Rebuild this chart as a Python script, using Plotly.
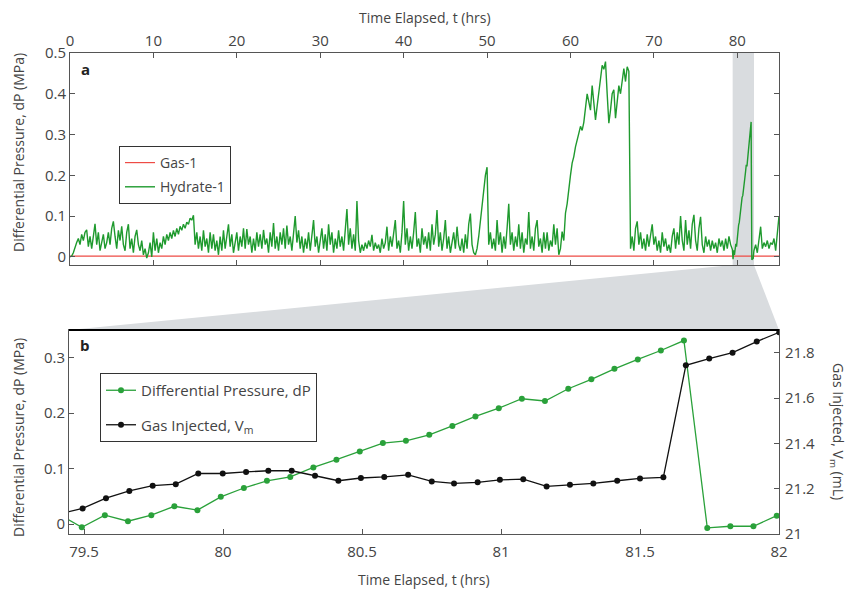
import plotly.graph_objects as go

# ---------------- DATA ----------------
# Panel a: Gas-1 (flat, near zero)
gas1_t = [0, 85]
gas1_dp = [0.002, 0.002]

# Panel a: Hydrate-1 main record, sampled every 0.2 h from t = 0 to 79.2 h (5 values per hour)
hydrate1_dp_main = [
    0.000, 0.002, 0.010, 0.025, 0.035,   # 0 h
    0.045, 0.030, 0.055, 0.040, 0.060,   # 1
    0.066, 0.025, 0.050, 0.020, 0.045,   # 2
    0.081, 0.030, 0.060, 0.015, 0.040,   # 3
    0.055, 0.020, 0.035, 0.060, 0.030,   # 4
    0.070, 0.087, 0.050, 0.020, 0.065,   # 5
    0.040, 0.075, 0.030, 0.015, 0.060,   # 6
    0.080, 0.020, 0.045, 0.010, 0.050,   # 7
    0.066, 0.030, 0.015, 0.040, 0.005,   # 8
    0.020, -0.003, 0.010, 0.035, 0.000,  # 9
    0.060, 0.015, 0.045, 0.010, 0.035,   # 10
    0.020, 0.050, 0.030, 0.055, 0.040,   # 11
    0.060, 0.045, 0.065, 0.050, 0.070,   # 12
    0.055, 0.075, 0.065, 0.080, 0.070,   # 13
    0.085, 0.080, 0.095, 0.090, 0.102,   # 14
    0.030, 0.060, 0.020, 0.050, 0.015,   # 15
    0.065, 0.025, 0.045, 0.010, 0.060,   # 16
    0.020, 0.055, 0.015, 0.040, 0.005,   # 17
    0.050, 0.015, 0.065, 0.020, 0.045,   # 18
    0.080, 0.025, 0.055, 0.010, 0.040,   # 19
    0.060, 0.015, 0.050, 0.025, 0.070,   # 20
    0.020, 0.068, 0.030, 0.050, 0.010,   # 21
    0.045, 0.015, 0.060, 0.025, 0.055,   # 22
    0.020, 0.066, 0.030, 0.045, 0.010,   # 23
    0.060, 0.025, 0.083, 0.020, 0.050,   # 24
    0.015, 0.060, 0.030, 0.070, 0.020,   # 25
    0.077, 0.030, 0.050, 0.015, 0.060,   # 26
    0.100, 0.035, 0.065, 0.020, 0.050,   # 27
    0.010, 0.045, 0.020, 0.060, 0.015,   # 28
    0.055, 0.090, 0.025, 0.050, 0.010,   # 29
    0.040, 0.070, 0.020, 0.055, 0.015,   # 30
    0.080, 0.030, 0.060, 0.010, 0.045,   # 31
    0.020, 0.065, 0.025, 0.050, 0.015,   # 32
    0.060, 0.117, 0.030, 0.070, 0.020,   # 33
    0.055, 0.015, 0.137, 0.040, 0.010,   # 34
    0.030, 0.015, 0.035, 0.020, 0.040,   # 35
    0.025, 0.054, 0.015, 0.035, 0.020,   # 36
    0.030, 0.010, 0.045, 0.020, 0.035,   # 37
    0.074, 0.015, 0.050, 0.025, 0.060,   # 38
    0.090, 0.020, 0.040, 0.010, 0.060,   # 39
    0.137, 0.030, 0.070, 0.015, 0.050,   # 40
    0.020, 0.060, 0.110, 0.025, 0.045,   # 41
    0.010, 0.070, 0.030, 0.050, 0.020,   # 42
    0.060, 0.015, 0.080, 0.030, 0.055,   # 43
    0.115, 0.025, 0.060, 0.015, 0.045,   # 44
    0.090, 0.020, 0.050, 0.010, 0.040,   # 45
    0.060, 0.020, 0.074, 0.030, 0.015,   # 46
    0.045, 0.010, 0.055, 0.020, 0.080,   # 47
    0.106, 0.030, 0.010, 0.005, 0.020,   # 48
    0.050, 0.090, 0.130, 0.170, 0.200,   # 49
    0.220, 0.030, 0.060, 0.020, 0.045,   # 50
    0.015, 0.090, 0.030, 0.060, 0.010,   # 51
    0.050, 0.020, 0.070, 0.130, 0.030,   # 52
    0.060, 0.015, 0.050, 0.025, 0.080,   # 53
    0.020, 0.060, 0.010, 0.045, 0.030,   # 54
    0.110, 0.020, 0.050, 0.015, 0.070,   # 55
    0.090, 0.025, 0.045, 0.010, 0.060,   # 56
    0.020, 0.060, 0.015, 0.040, 0.025,   # 57
    0.080, 0.030, 0.070, 0.005, 0.020,   # 58
    0.062, 0.040, 0.107, 0.130, 0.170,   # 59
    0.200, 0.230, 0.246, 0.270, 0.290,   # 60
    0.303, 0.320, 0.310, 0.330, 0.370,   # 61
    0.400, 0.380, 0.360, 0.420, 0.380,   # 62
    0.336, 0.370, 0.400, 0.440, 0.470,   # 63
    0.460, 0.479, 0.400, 0.328, 0.360,   # 64
    0.400, 0.410, 0.340, 0.380, 0.420,   # 65
    0.400, 0.440, 0.462, 0.430, 0.466,   # 66
    0.455, 0.020, 0.050, 0.015, 0.070,   # 67
    0.087, 0.030, 0.060, 0.020, 0.045,   # 68
    0.015, 0.055, 0.025, 0.060, 0.080,   # 69
    0.030, 0.050, 0.015, 0.040, 0.010,   # 70
    0.060, 0.025, 0.045, 0.015, 0.030,   # 71
    0.010, 0.050, 0.070, 0.020, 0.060,   # 72
    0.030, 0.100, 0.040, 0.015, 0.090,   # 73
    0.030, 0.065, 0.020, 0.080, 0.103,   # 74
    0.040, 0.015, 0.070, 0.098, 0.030,   # 75
    0.010, 0.050, 0.025, 0.042, 0.015,   # 76
    0.040, 0.020, 0.035, 0.010, 0.045,   # 77
    0.025, 0.040, 0.015, 0.045, 0.020,   # 78
    0.050, 0.030,                        # 79.0, 79.2
]
hydrate1_t_main = [round(0.2 * i, 1) for i in range(len(hydrate1_dp_main))]

# Panel b: differential pressure dP (MPa) -- also the zoomed part of Hydrate-1
dp_t = [79.408, 79.492, 79.575, 79.658, 79.742, 79.825, 79.908, 79.992, 80.075, 80.158,
        80.242, 80.325, 80.408, 80.492, 80.575, 80.658, 80.742, 80.825, 80.908, 80.992,
        81.075, 81.158, 81.242, 81.325, 81.408, 81.492, 81.575, 81.658, 81.742, 81.825,
        81.908, 81.992]
dp_val = [0.018, -0.006, 0.016, 0.005, 0.016, 0.032, 0.025, 0.049, 0.065, 0.078,
          0.085, 0.102, 0.116, 0.131, 0.146, 0.150, 0.161, 0.177, 0.194, 0.209,
          0.226, 0.222, 0.244, 0.261, 0.280, 0.297, 0.313, 0.331, -0.007, -0.004,
          -0.004, 0.015]

# Panel a: Hydrate-1 tail after 82 h
hydrate1_t_tail = [82.2, 82.4, 82.6, 82.8, 83.0, 83.2, 83.4, 83.6, 83.8, 84.0,
                   84.2, 84.4, 84.6, 84.8, 85.0]
hydrate1_dp_tail = [0.030, 0.010, 0.040, 0.074, 0.020, 0.035, 0.025, 0.040, 0.020, 0.035,
                    0.030, 0.045, 0.015, 0.060, 0.100]

# Panel b: gas injected Vm (mL)
vm_t = [79.417, 79.495, 79.579, 79.663, 79.747, 79.830, 79.911, 79.999, 80.083, 80.163,
        80.247, 80.331, 80.415, 80.496, 80.580, 80.666, 80.751, 80.831, 80.916, 80.996,
        81.080, 81.164, 81.248, 81.332, 81.418, 81.500, 81.584, 81.665, 81.749, 81.833,
        81.920, 82.001]
vm_val = [21.090, 21.113, 21.158, 21.190, 21.213, 21.220, 21.267, 21.267, 21.274, 21.279,
          21.279, 21.257, 21.235, 21.247, 21.252, 21.261, 21.232, 21.223, 21.228, 21.239,
          21.242, 21.210, 21.217, 21.223, 21.235, 21.245, 21.250, 21.744, 21.774, 21.800,
          21.849, 21.890]

# axis ticks / ranges
top_x_ticks = [0, 10, 20, 30, 40, 50, 60, 70, 80]
top_y_ticks = [0, 0.1, 0.2, 0.3, 0.4, 0.5]
top_y_labels = ["0", "0.1", "0.2", "0.3", "0.4", "0.5"]
bot_x_ticks = [79.5, 80, 80.5, 81, 81.5, 82]
bot_x_labels = ["79.5", "80", "80.5", "81", "81.5", "82"]
bot_y_ticks = [0, 0.1, 0.2, 0.3]
bot_y_labels = ["0", "0.1", "0.2", "0.3"]
vm_ticks = [21, 21.2, 21.4, 21.6, 21.8]
vm_labels = ["21", "21.2", "21.4", "21.6", "21.8"]
zoom_window = [79.446, 82.0]

hydrate1_t = hydrate1_t_main + dp_t + hydrate1_t_tail
hydrate1_dp = hydrate1_dp_main + dp_val + hydrate1_dp_tail

# ---------------- STYLE ----------------
W, H = 848, 592
FONT = "Open Sans"
TXT = "#444444"
GREEN = "#1f9a2e"
GREEN_B = "#2aa13a"
RED = "#ee4b45"
BLACK = "#111111"
SPINE = "#555555"
BAND = "#d9dcdf"

top_xdom = [70 / W, 779 / W]
top_ydom = [1 - 265 / H, 1 - 53 / H]
bot_xdom = [69 / W, 779 / W]
bot_ydom = [1 - 534 / H, 1 - 330 / H]
top_xrange = [0, 85]
top_yrange = [-0.02, 0.5]

fig = go.Figure()
fig.add_trace(go.Scatter(x=gas1_t, y=gas1_dp, mode="lines", name="Gas-1", legendgroup="g1",
                         line=dict(color=RED, width=1.2), xaxis="x", yaxis="y", legend="legend"))
fig.add_trace(go.Scatter(x=hydrate1_t, y=hydrate1_dp, mode="lines", name="Hydrate-1", legendgroup="g2",
                         line=dict(color=GREEN, width=1.4), xaxis="x", yaxis="y", legend="legend"))
fig.add_trace(go.Scatter(x=dp_t, y=dp_val, mode="lines+markers", name="Differential Pressure, dP",
                         legendgroup="g3",
                         line=dict(color=GREEN_B, width=1.3), marker=dict(color=GREEN_B, size=6),
                         xaxis="x2", yaxis="y2", legend="legend2"))
fig.add_trace(go.Scatter(x=vm_t, y=vm_val, mode="lines+markers", name="Gas Injected, V<sub>m</sub>",
                         legendgroup="g4",
                         line=dict(color=BLACK, width=1.3), marker=dict(color=BLACK, size=6),
                         xaxis="x2", yaxis="y3", legend="legend2"))

axis_common = dict(showgrid=False, zeroline=False, ticks="inside", ticklen=5, tickcolor=SPINE,
                   showline=True, linecolor=SPINE, linewidth=1, automargin=False,
                   tickfont=dict(family=FONT, size=15, color=TXT))

fig.update_layout(
    width=W, height=H, margin=dict(l=0, r=0, t=0, b=0, pad=0, autoexpand=False),
    paper_bgcolor="white", plot_bgcolor="rgba(0,0,0,0)",
    font=dict(family=FONT, size=14, color=TXT),
    xaxis=dict(domain=top_xdom, anchor="y", side="top", range=top_xrange,
               tickvals=top_x_ticks, mirror="ticks", **axis_common),
    yaxis=dict(domain=top_ydom, anchor="x", range=top_yrange,
               tickvals=top_y_ticks, ticktext=top_y_labels, mirror="ticks", **axis_common),
    xaxis2=dict(domain=bot_xdom, anchor="y2", range=zoom_window, ticklabelstandoff=4,
                tickvals=bot_x_ticks, ticktext=bot_x_labels, mirror=True, **axis_common),
    yaxis2=dict(domain=bot_ydom, anchor="x2", range=[-0.018, 0.35],
                tickvals=bot_y_ticks, ticktext=bot_y_labels, **axis_common),
    yaxis3=dict(domain=bot_ydom, anchor="x2", overlaying="y2", side="right", range=[21, 21.9],
                tickvals=vm_ticks, ticktext=vm_labels, ticklabelstandoff=2, **axis_common),
    legend=dict(x=119 / W, y=1 - 146 / H, xanchor="left", yanchor="top",
                bgcolor="white", bordercolor="#333333", borderwidth=1, tracegroupgap=3,
                font=dict(family=FONT, size=14, color=TXT)),
    legend2=dict(x=100 / W, y=1 - 373 / H, xanchor="left", yanchor="top",
                 bgcolor="white", bordercolor="#333333", borderwidth=1, tracegroupgap=12,
                 font=dict(family=FONT, size=15, color=TXT)),
    showlegend=True,
)

# zoom band in panel a
fig.add_shape(type="rect", xref="x", yref="y domain", x0=zoom_window[0], x1=zoom_window[1],
              y0=0, y1=1, fillcolor=BAND, line=dict(width=0), layer="below")

# connector trapezoid from panel a band to panel b
def top_xpaper(t):
    return top_xdom[0] + (t - top_xrange[0]) / (top_xrange[1] - top_xrange[0]) * (top_xdom[1] - top_xdom[0])

bx0, bx1 = top_xpaper(zoom_window[0]), top_xpaper(zoom_window[1])
path = (f"M {bx0},{top_ydom[0]} L {bx1},{top_ydom[0]} L {bot_xdom[1]},{bot_ydom[1]} "
        f"L {bot_xdom[0]},{bot_ydom[1]} Z")
fig.add_shape(type="path", xref="paper", yref="paper", path=path,
              fillcolor=BAND, line=dict(width=0), layer="below")
# black top edge of panel b
fig.add_shape(type="line", xref="paper", yref="paper", x0=bot_xdom[0], x1=bot_xdom[1],
              y0=bot_ydom[1], y1=bot_ydom[1], line=dict(color="black", width=2))

ann = dict(showarrow=False, xref="paper", yref="paper", font=dict(family=FONT, size=14, color=TXT))
fig.add_annotation(text="Time Elapsed, t (hrs)", x=(top_xdom[0] + top_xdom[1]) / 2,
                   y=1 - 18 / H, yanchor="middle", **ann)
fig.add_annotation(text="Time Elapsed, t (hrs)", x=(bot_xdom[0] + bot_xdom[1]) / 2,
                   y=1 - 579 / H, yanchor="middle", **ann)
fig.add_annotation(text="Differential Pressure, dP (MPa)", x=18 / W, y=1 - 153 / H,
                   textangle=-90, xanchor="center", yanchor="middle", **ann)
fig.add_annotation(text="Differential Pressure, dP (MPa)", x=18 / W, y=1 - 438 / H,
                   textangle=-90, xanchor="center", yanchor="middle", **ann)
fig.add_annotation(text="Gas Injected, V<sub>m</sub> (mL)", x=838 / W, y=1 - 431 / H,
                   textangle=90, xanchor="center", yanchor="middle", **ann)
fig.add_annotation(text="<b>a</b>", x=85 / W, y=1 - 69 / H, xanchor="center", yanchor="middle",
                   showarrow=False, xref="paper", yref="paper",
                   font=dict(family=FONT, size=15, color="#222222"))
fig.add_annotation(text="<b>b</b>", x=85 / W, y=1 - 345 / H, xanchor="center", yanchor="middle",
                   showarrow=False, xref="paper", yref="paper",
                   font=dict(family=FONT, size=15, color="#222222"))

fig.write_html("out.html")
